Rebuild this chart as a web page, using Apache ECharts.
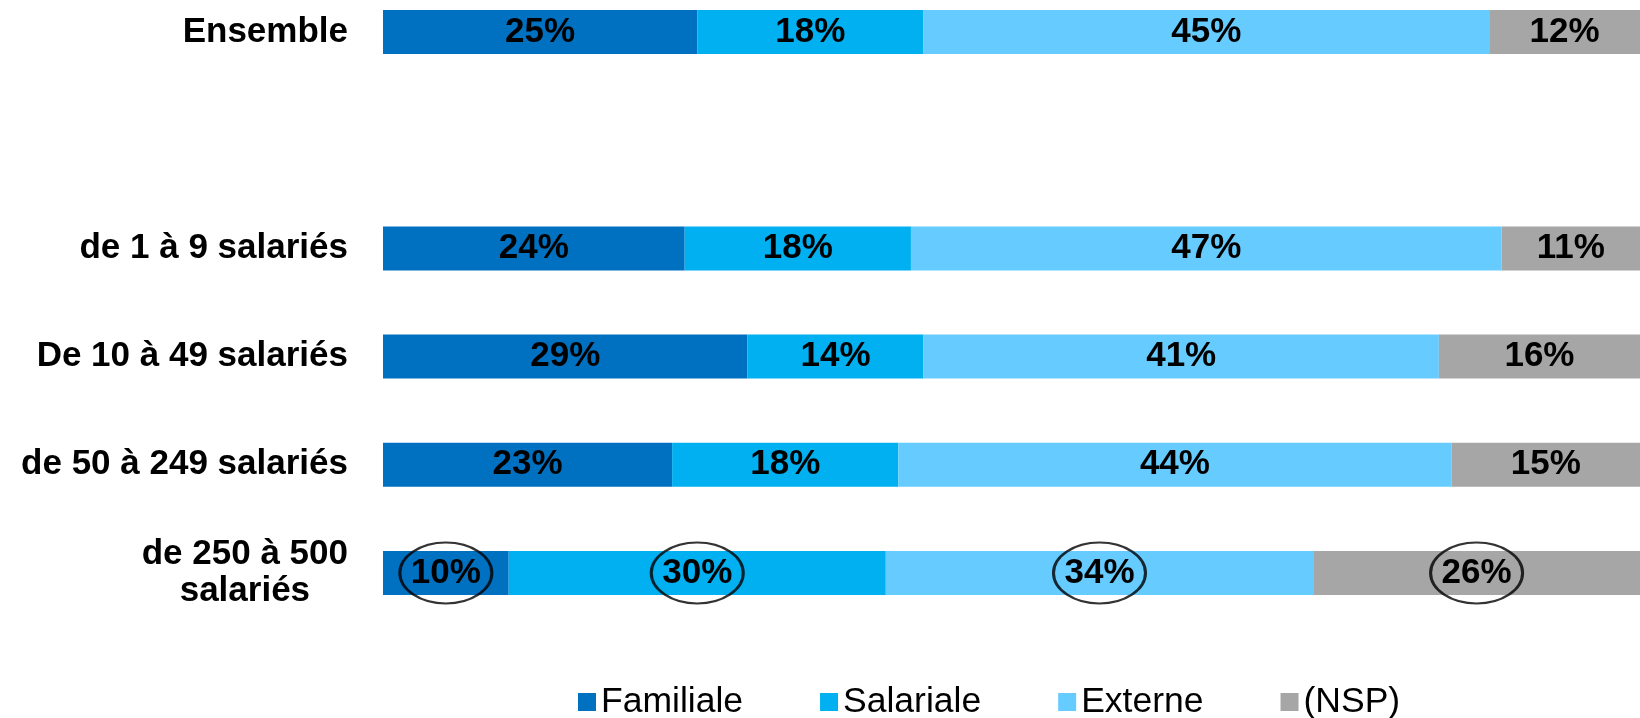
<!DOCTYPE html>
<html>
<head>
<meta charset="utf-8">
<script src="https://cdn.jsdelivr.net/npm/echarts@6/dist/echarts.min.js"></script>
<style>
  html, body { margin: 0; padding: 0; background: #fff; }
  #main { width: 1640px; height: 718px; }
</style>
</head>
<body>
<div id="main"></div>
<script>
var categories = ['Ensemble', '', 'de 1 à 9 salariés', 'De 10 à 49 salariés', 'de 50 à 249 salariés', 'de 250 à 500\nsalariés'];
var seriesNames = ['Familiale', 'Salariale', 'Externe', '(NSP)'];
var familiale = [25, null, 24, 29, 23, 10];
var salariale = [18, null, 18, 14, 18, 30];
var externe = [45, null, 47, 41, 44, 34];
var nsp = [12, null, 11, 16, 15, 26];
var colors = ['#0070C0', '#00B0F0', '#66CCFF', '#A6A6A6'];
// row whose labels are circled
var circledRow = 5;

var font = '"Liberation Sans", Arial, sans-serif';
var allValues = [familiale, salariale, externe, nsp];

var series = allValues.map(function (vals, i) {
    return {
        name: seriesNames[i],
        type: 'bar',
        stack: 'total',
        barWidth: 44,
        itemStyle: { color: colors[i] },
        label: {
            show: true,
            position: 'inside',
            formatter: '{c}%',
            color: '#000',
            fontFamily: font,
            fontWeight: 'bold',
            fontSize: 35
        },
        data: vals
    };
});

// ellipses around the labels of the last row, at the middle of each segment
var ellipseData = [];
var acc = 0;
allValues.forEach(function (vals) {
    var v = vals[circledRow];
    ellipseData.push([acc + v / 2, circledRow]);
    acc += v;
});
series.push({
    type: 'scatter',
    symbol: 'circle',
    symbolSize: [92, 61],
    silent: true,
    z: 5,
    itemStyle: { color: 'rgba(0,0,0,0)', borderColor: '#000', borderWidth: 2.5 },
    data: ellipseData
});

var myChart = echarts.init(document.getElementById('main'));
var option = {
    animation: false,
    legend: {
        data: seriesNames,
        left: 578,
        top: 684,
        padding: 0,
        icon: 'rect',
        itemWidth: 18,
        itemHeight: 18,
        itemGap: 77,
        textStyle: { color: '#000', fontFamily: font, fontSize: 35.5 }
    },
    grid: {
        left: 383,
        top: 32,
        width: 1272,
        height: 541
    },
    xAxis: {
        type: 'value',
        min: 0,
        max: 100,
        show: false
    },
    yAxis: {
        type: 'category',
        inverse: true,
        boundaryGap: false,
        data: categories,
        axisLine: { show: false },
        axisTick: { show: false },
        splitLine: { show: false },
        axisLabel: {
            margin: 35,
            color: '#000',
            fontFamily: font,
            fontWeight: 'bold',
            fontSize: 35,
            lineHeight: 37,
            formatter: function (v) {
                if (v.indexOf('\n') >= 0) {
                    return v.split('\n').map(function (s) { return '{c|' + s + '}'; }).join('\n');
                }
                return v;
            },
            rich: {
                c: { align: 'center', fontFamily: font, fontWeight: 'bold', fontSize: 35, lineHeight: 37, color: '#000' }
            }
        }
    },
    series: series
};
myChart.setOption(option);
window.onresize = myChart.resize;
</script>
</body>
</html>
